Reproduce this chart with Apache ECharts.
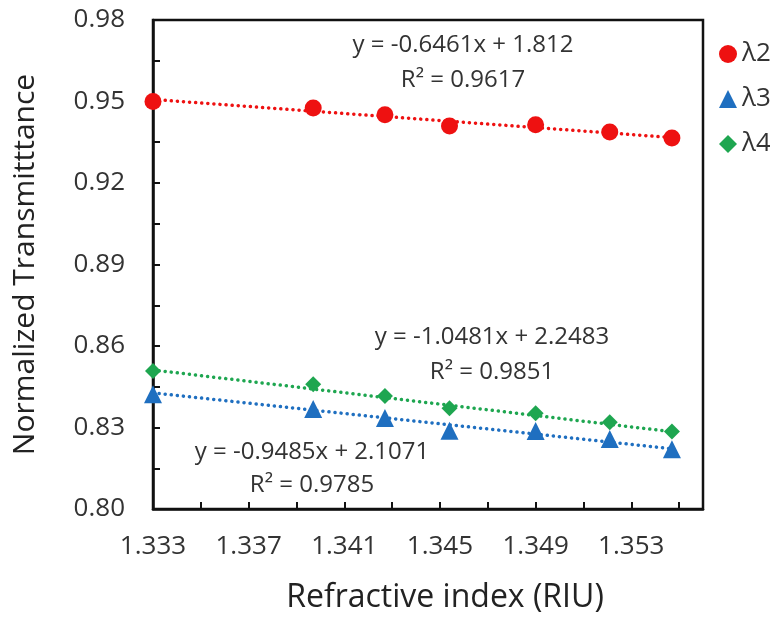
<!DOCTYPE html>
<html><head><meta charset="utf-8">
<script src="https://cdn.jsdelivr.net/npm/echarts@6/dist/echarts.min.js"></script>
<style>html,body{margin:0;padding:0;background:#fff}#c{width:770px;height:621px}</style>
</head><body><div id="c"></div>
<script>
var xValues = [1.333, 1.3397, 1.3427, 1.3454, 1.349, 1.3521, 1.3547];
var lambda2 = [0.9500, 0.9476, 0.9451, 0.9410, 0.9414, 0.9388, 0.9366];
var lambda3 = [0.8422, 0.8368, 0.8335, 0.8288, 0.8287, 0.8258, 0.8220];
var lambda4 = [0.8508, 0.8459, 0.8416, 0.8371, 0.8352, 0.8319, 0.8285];
var seriesNames = ['λ2', 'λ3', 'λ4'];
var slopes = [-0.6461, -0.9485, -1.0481];
var intercepts = [1.812, 2.1071, 2.2483];
var rSquared = ['0.9617', '0.9785', '0.9851'];
var xTickLabels = ['1.333', '1.337', '1.341', '1.345', '1.349', '1.353'];
var yTickLabels = ['0.80', '0.83', '0.86', '0.89', '0.92', '0.95', '0.98'];

var FONT = 'Open Sans';
var colors = ['#ee1111', '#1f6fc0', '#1ea650'];
var symbols = ['circle', 'triangle', 'diamond'];
var sizes = [17, 18, 16];
var values = [lambda2, lambda3, lambda4];

function pts(arr) { return xValues.map(function (x, i) { return [x, arr[i]]; }); }
function trend(k) {
  var x0 = xValues[0], x1 = xValues[xValues.length - 1];
  return [[x0, slopes[k] * x0 + intercepts[k]], [x1, slopes[k] * x1 + intercepts[k]]];
}
function eqText(k) { return 'y = ' + slopes[k] + 'x + ' + intercepts[k]; }

var series = [];
for (var k = 0; k < 3; k++) {
  series.push({
    name: seriesNames[k] + ' trend', type: 'line', data: trend(k), symbol: 'none',
    lineStyle: { color: colors[k], type: [0.1, 6], width: 3.5, cap: 'round' }, z: 2, silent: true
  });
}
for (var k2 = 0; k2 < 3; k2++) {
  series.push({
    name: seriesNames[k2], type: 'scatter', data: pts(values[k2]), symbol: symbols[k2],
    symbolSize: sizes[k2], itemStyle: { color: colors[k2], opacity: 1 }, z: 5
  });
}

var annFont = '24px "' + FONT + '"';
var annotations = [
  [463, 45, eqText(0)], [463, 80, 'R² = ' + rSquared[0]],
  [312, 452, eqText(1)], [312, 485, 'R² = ' + rSquared[1]],
  [492, 337, eqText(2)], [492, 372, 'R² = ' + rSquared[2]]
];

var chart = echarts.init(document.getElementById('c'));
chart.setOption({
  animation: false,
  backgroundColor: '#fff',
  textStyle: { fontFamily: FONT },
  grid: { left: 153, right: 67, top: 20, bottom: 112, show: true, borderColor: '#111', borderWidth: 2.5 },
  xAxis: {
    type: 'value', min: 1.333, max: 1.356, interval: 0.002,
    axisLine: { show: true, lineStyle: { color: '#111', width: 2.5 } },
    axisTick: { show: true, inside: true, length: 7, lineStyle: { color: '#111', width: 2 } },
    splitLine: { show: false },
    axisLabel: {
      fontSize: 26, color: '#333', fontFamily: FONT, margin: 25, showMaxLabel: false,
      formatter: function (v) { var s = v.toFixed(3); return xTickLabels.indexOf(s) >= 0 ? s : ''; }
    },
    name: 'Refractive index (RIU)', nameLocation: 'middle', nameGap: 73,
    nameTextStyle: { fontSize: 32, color: '#222', fontFamily: FONT, padding: [0, 0, 0, 34] }
  },
  yAxis: {
    type: 'value', min: 0.80, max: 0.98, interval: 0.015,
    axisLine: { show: true, lineStyle: { color: '#111', width: 2.5 } },
    axisTick: { show: true, inside: true, length: 7, lineStyle: { color: '#111', width: 2 } },
    splitLine: { show: false },
    axisLabel: {
      fontSize: 26, color: '#333', fontFamily: FONT, margin: 28,
      formatter: function (v) { var s = v.toFixed(2); return (yTickLabels.indexOf(s) >= 0 && Math.abs(v - parseFloat(s)) < 1e-6) ? s : ''; }
    },
    name: 'Normalized Transmitttance', nameLocation: 'middle', nameGap: 113,
    nameTextStyle: { fontSize: 30, color: '#222', fontFamily: FONT }
  },
  legend: {
    data: seriesNames.map(function (n, i) { return { name: n, icon: symbols[i] }; }),
    orient: 'vertical', left: 719, top: 41, itemWidth: 18, itemHeight: 18, itemGap: 19,
    textStyle: { fontSize: 26, lineHeight: 26, color: '#333', fontFamily: FONT }, padding: 0
  },
  graphic: annotations.map(function (a) {
    return { type: 'text', x: a[0], y: a[1], style: { text: a[2], font: annFont, fill: '#333', align: 'center', verticalAlign: 'middle' } };
  }),
  series: series
});
</script></body></html>
